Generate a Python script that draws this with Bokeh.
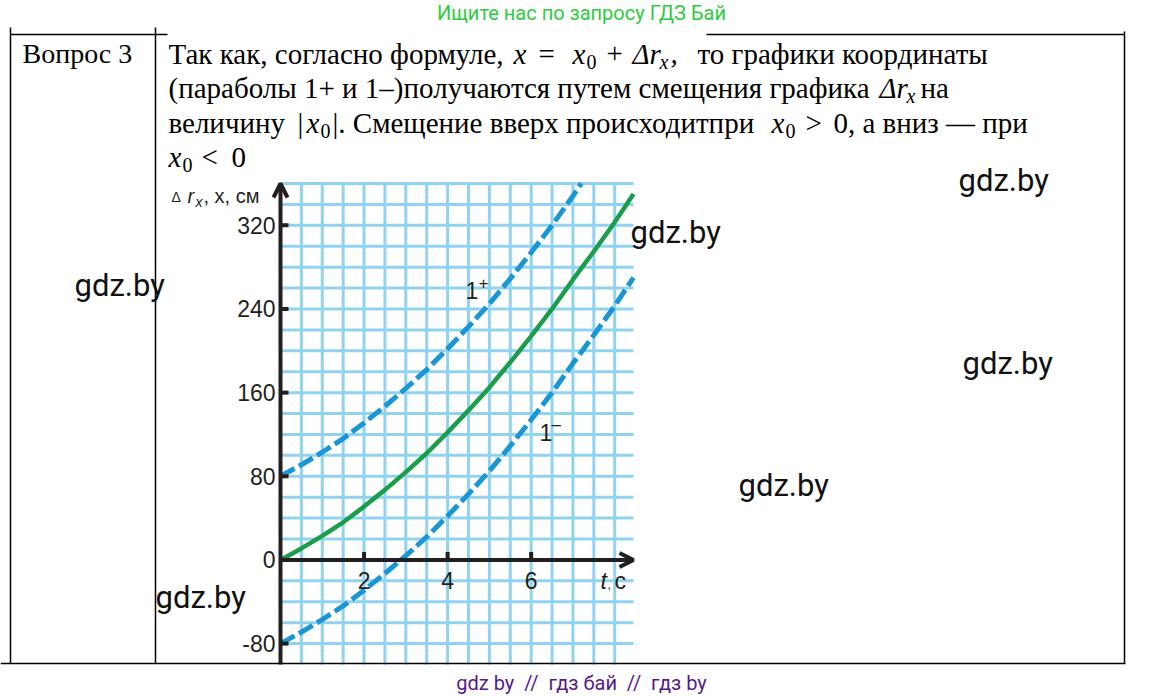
from bokeh.plotting import figure
from bokeh.models import Range1d, Label, Arrow, OpenHead
from bokeh.core.properties import value
from bokeh.embed import file_html
from bokeh.resources import INLINE

# ---------------- data ----------------
t_vals = [0, 0.5, 1, 1.5, 2, 2.5, 3, 3.5, 4, 4.5, 5, 5.5, 6, 6.5, 7, 7.5, 8, 8.45]
dr_vals = [0, 11, 23, 36, 51, 67, 84, 102, 122, 143, 165, 189, 214, 240, 268, 295, 323, 350]
t_plus = [0, 0.5, 1, 1.5, 2, 2.5, 3, 3.5, 4, 4.5, 5, 5.5, 6, 6.5, 7, 7.2]
x_plus = [80, 91, 103, 116, 131, 147, 164, 182, 202, 223, 245, 269, 294, 320, 348, 360]
t_minus = [0, 0.5, 1, 1.5, 2, 2.5, 3, 3.5, 4, 4.5, 5, 5.5, 6, 6.5, 7, 7.5, 8, 8.45]
x_minus = [-80, -69, -57, -44, -29, -13, 4, 22, 42, 63, 85, 109, 134, 160, 188, 215, 243, 270]
y_ticks = [-80, 0, 80, 160, 240, 320]
y_tick_labels = ["-80", "0", "80", "160", "240", "320"]
x_ticks = [2, 4, 6]
x_tick_labels = ["2", "4", "6"]
t_grid = [0.5, 1, 1.5, 2, 2.5, 3, 3.5, 4, 4.5, 5, 5.5, 6, 6.5, 7, 7.5, 8]
v_grid = [-80, -60, -40, -20, 20, 40, 60, 80, 100, 120, 140, 160, 180, 200,
          220, 240, 260, 280, 300, 320, 340, 360]

T0, T1 = 0, 8.45
V0, V1 = -100, 360

# ---------------- layout ----------------
W, H = 1162, 696
CL, CR, CT, CB = 280, 633, 183, 664   # chart area in page pixels
PX_T = (CR - CL) / (T1 - T0)
PX_V = (CB - CT) / (V1 - V0)

p = figure(width=W, height=H,
           x_range=Range1d(T0 - CL / PX_T, T0 + (W - CL) / PX_T),
           y_range=Range1d(V1 - (H - CT) / PX_V, V1 + CT / PX_V),
           output_backend="svg", toolbar_location=None,
           x_axis_location=None, y_axis_location=None, min_border=0)
p.outline_line_color = None
p.background_fill_color = "white"
p.border_fill_color = "white"
p.xgrid.visible = False
p.ygrid.visible = False


def tx(X):
    return T0 + (X - CL) / PX_T


def vy(Y):
    return V1 - (Y - CT) / PX_V


GRID = "#90d3f1"
INK = "#231f20"
BLUE = "#1b96d5"
n_t = len(t_grid)
n_v = len(v_grid)

# grid
p.segment(x0=t_grid, y0=[V0] * n_t, x1=t_grid, y1=[V1] * n_t, line_color=GRID, line_width=3)
p.segment(x0=[T0] * n_v, y0=v_grid, x1=[T1] * n_v, y1=v_grid, line_color=GRID, line_width=3)

# curves
p.line(t_vals, dr_vals, line_color="#1a9e4b", line_width=4.5)
p.line(t_plus, x_plus, line_color=BLUE, line_width=5, line_dash="16 5")
p.line(t_minus, x_minus, line_color=BLUE, line_width=5, line_dash="16 5")

# axes with arrows
p.add_layout(Arrow(x_start=T0, y_start=0, x_end=T1, y_end=0, line_width=4, line_color=INK,
                   end=OpenHead(size=14, line_width=4, line_color=INK)))
p.add_layout(Arrow(x_start=T0, y_start=V0, x_end=T0, y_end=V1, line_width=4, line_color=INK,
                   end=OpenHead(size=14, line_width=4, line_color=INK)))
tick_len_t = 8 / PX_T
tick_len_v = 8 / PX_V
p.segment(x0=[T0] * len(y_ticks), y0=y_ticks, x1=[T0 + tick_len_t] * len(y_ticks), y1=y_ticks,
          line_width=4, line_color=INK)
p.segment(x0=x_ticks, y0=[0] * len(x_ticks), x1=x_ticks, y1=[tick_len_v] * len(x_ticks),
          line_width=4, line_color=INK)
p.text(x=[T0] * len(y_ticks), y=y_ticks, text=y_tick_labels, x_offset=-5,
       text_font=value("Liberation Sans"), text_font_size="23px", text_color=INK,
       text_align="right", text_baseline="middle")
p.text(x=x_ticks, y=[vy(580)] * len(x_ticks), text=x_tick_labels,
       text_font=value("Liberation Sans"), text_font_size="23px", text_color=INK,
       text_align="center", text_baseline="middle")


def lab(text, X, Y, size, font="Liberation Serif", style="normal", color="black",
        align="left", baseline="middle"):
    p.add_layout(Label(x=tx(X), y=vy(Y), text=text, text_font=font,
                       text_font_size=f"{size}px", text_font_style=style,
                       text_color=color, text_align=align, text_baseline=baseline))


def hline(X0, X1, Y, w=1.5):
    p.add_layout(Arrow(x_start=tx(X0), y_start=vy(Y), x_end=tx(X1), y_end=vy(Y),
                       start=None, end=None, line_width=w, line_color="black"))


def vline(X, Y0, Y1, w=1.5):
    p.add_layout(Arrow(x_start=tx(X), y_start=vy(Y0), x_end=tx(X), y_end=vy(Y1),
                       start=None, end=None, line_width=w, line_color="black"))


# chart labels
SANS = "Liberation Sans"
lab("1", 465, 290, 23, SANS, color=INK)
lab("+", 478, 282, 17, SANS, color=INK)
lab("1", 539, 432, 23, SANS, color=INK)
lab("\u2013", 551, 424, 17, SANS, color=INK)
lab("t", 600, 580, 23, SANS, "italic", INK)
lab(",", 607, 584, 12, SANS, color=INK)
lab("c", 614, 580, 23, SANS, color=INK)
lab("\u0394", 171, 196, 14, SANS, color=INK)
lab("r", 187, 195, 20, SANS, "italic", INK)
lab("x", 195, 201, 14, SANS, "italic", INK)
lab(", x, \u0441\u043c", 203, 195, 20, SANS, color=INK)

# table
hline(10, 167, 34)
hline(706, 1124, 34)
hline(0, 1125, 663)
vline(10, 27, 663)
vline(155, 27, 663)
vline(1124, 31, 663)

# text
SER = "Liberation Serif"
FS = 29
SUB = 20
lab("\u0412\u043e\u043f\u0440\u043e\u0441 3", 22, 53, 28, SER)
b1, b2, b3, b4 = 53, 87.5, 122, 156.5
d = 8
lab("\u0422\u0430\u043a \u043a\u0430\u043a, \u0441\u043e\u0433\u043b\u0430\u0441\u043d\u043e \u0444\u043e\u0440\u043c\u0443\u043b\u0435,", 168, b1, FS, SER)
lab("x", 513, b1, FS, SER, "italic")
lab("=", 538, b1, FS, SER)
lab("x", 572, b1, FS, SER, "italic")
lab("0", 586, b1 + d, SUB, SER)
lab("+", 606, b1, FS, SER)
lab("\u0394r", 632, b1, FS, SER, "italic")
lab("x", 659, b1 + d, SUB, SER, "italic")
lab(",", 670, b1, FS, SER, "italic")
lab("\u0442\u043e \u0433\u0440\u0430\u0444\u0438\u043a\u0438 \u043a\u043e\u043e\u0440\u0434\u0438\u043d\u0430\u0442\u044b", 697, b1, FS, SER)

lab("(\u043f\u0430\u0440\u0430\u0431\u043e\u043b\u044b 1+ \u0438 1\u2013)\u043f\u043e\u043b\u0443\u0447\u0430\u044e\u0442\u0441\u044f \u043f\u0443\u0442\u0435\u043c \u0441\u043c\u0435\u0449\u0435\u043d\u0438\u044f \u0433\u0440\u0430\u0444\u0438\u043a\u0430", 168, b2, FS, SER)
lab("\u0394r", 879, b2, FS, SER, "italic")
lab("x", 906, b2 + d, SUB, SER, "italic")
lab("\u043d\u0430", 920, b2, FS, SER)

lab("\u0432\u0435\u043b\u0438\u0447\u0438\u043d\u0443", 168, b3, FS, SER)
lab("|", 297, b3, FS, SER)
lab("x", 306, b3, FS, SER, "italic")
lab("0", 320, b3 + d, SUB, SER)
lab("|. \u0421\u043c\u0435\u0449\u0435\u043d\u0438\u0435 \u0432\u0432\u0435\u0440\u0445 \u043f\u0440\u043e\u0438\u0441\u0445\u043e\u0434\u0438\u0442\u043f\u0440\u0438", 332, b3, FS, SER)
lab("x", 771, b3, FS, SER, "italic")
lab("0", 785, b3 + d, SUB, SER)
lab(">", 805, b3, FS, SER)
lab("0, \u0430 \u0432\u043d\u0438\u0437 \u2014 \u043f\u0440\u0438", 833, b3, FS, SER)

lab("x", 168, b4, FS, SER, "italic")
lab("0", 182, b4 + d, SUB, SER)
lab("<", 201, b4, FS, SER)
lab("0", 231, b4, FS, SER)

# watermarks
ROB = "Roboto"
for X, Y in [(958, 180), (630, 232), (74, 285), (962, 363), (738, 485), (155, 597)]:
    lab("gdz.by", X, Y, 31, ROB, color="#111111")

lab("\u0418\u0449\u0438\u0442\u0435 \u043d\u0430\u0441 \u043f\u043e \u0437\u0430\u043f\u0440\u043e\u0441\u0443 \u0413\u0414\u0417 \u0411\u0430\u0439", 581, 12, 20, ROB,
    color="#2ecc40", align="center")
lab("gdz by\u00a0\u00a0//\u00a0\u00a0\u0433\u0434\u0437 \u0431\u0430\u0439\u00a0\u00a0//\u00a0\u00a0\u0433\u0434\u0437 by", 581, 682, 20, ROB,
    color="#551a8b", align="center")

open("out.html", "w").write(file_html(p, INLINE))
